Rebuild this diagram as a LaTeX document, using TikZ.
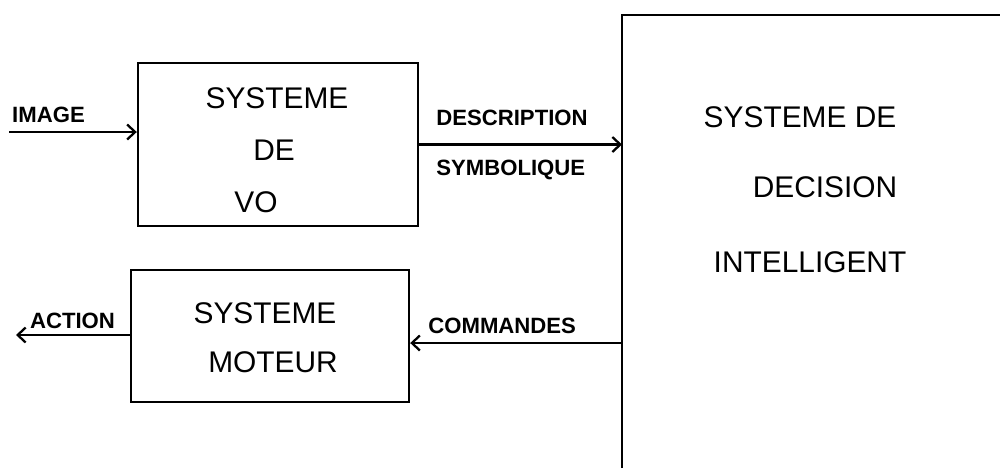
\documentclass[tikz,border=0pt]{standalone}
\usepackage{fontspec}
\setmainfont{Liberation Sans}
\usetikzlibrary{arrows.meta, positioning, calc}

\tikzset{
    bloc/.style={draw, line width=1.4pt, inner sep=0pt},
    grand/.style={font=\fontsize{17}{20}\selectfont, inner sep=0pt, anchor=base},
    etiq/.style={font=\fontsize{12.6}{15}\selectfont\bfseries, inner sep=0pt, anchor=base},
    fleche/.style={line width=1.3pt, -{Straight Barb[length=1.6mm, width=3mm]}}
}

\begin{document}
\begin{tikzpicture}[x=0.02cm, y=-0.02cm]
        % Cadre
        \useasboundingbox (0,0) rectangle (1000,468);

        % --- Blocs ---
        \node[bloc, minimum width=5.6cm, minimum height=3.26cm] (vo) at (278,144.5) {};
        \node[bloc, minimum width=5.56cm, minimum height=2.64cm] (moteur) at (270,336) {};

        % Systeme de decision : ouvert a droite et en bas
        \coordinate (decbas) at (622,468);
        \coordinate (dechaut) at (622,15);
        \coordinate (decdroite) at (1000,15);
        \draw[line width=1.4pt] (decbas) -- (dechaut) -- (decdroite);

        % --- Textes des blocs ---
        \node[grand] (vo1) at (277,108) {SYSTEME};
        \node[grand] (vo2) at (274,160) {DE};
        \node[grand] (vo3) at (256,212) {VO};

        \node[grand] (mot1) at (265,323) {SYSTEME};
        \node[grand] (mot2) at (273,372) {MOTEUR};

        \node[grand] (dec1) at (800,127) {SYSTEME DE};
        \node[grand] (dec2) at (825,197) {DECISION};
        \node[grand] (dec3) at (810,272) {INTELLIGENT};

        % --- Connecteurs ---
        \coordinate (img) at (9,132);
        \draw[fleche] (img) -- (img -| vo.west);

        \draw[fleche] (vo.east) -- (vo.east -| dechaut);

        \coordinate (cmd) at (622,343);
        \draw[fleche] (cmd) -- (cmd -| moteur.east);

        \coordinate (act) at (16,335);
        \draw[fleche] (moteur.west |- act) -- (act);

        % --- Etiquettes ---
        \node[etiq] (limage) at (48.5,122) {IMAGE};
        \node[etiq, anchor=base west] (ldesc) at (436,125) {DESCRIPTION};
        \node[etiq, anchor=base west] (lsymb) at (436,175) {SYMBOLIQUE};
        \node[etiq] (laction) at (72.5,328) {ACTION};
        \node[etiq, anchor=base west] (lcmd) at (428,333) {COMMANDES};
    \end{tikzpicture}
\end{document}
